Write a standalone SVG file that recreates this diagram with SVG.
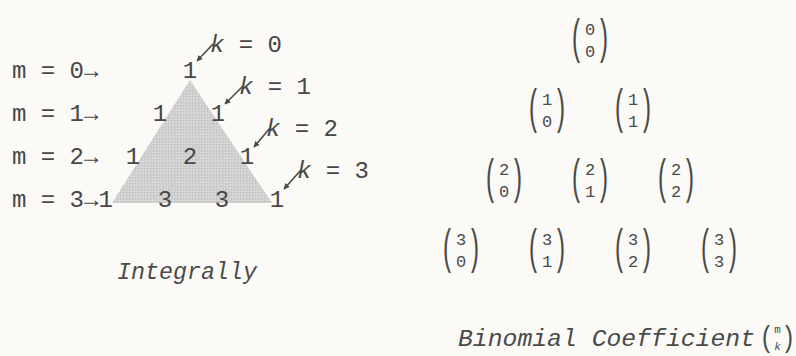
<svg xmlns="http://www.w3.org/2000/svg" width="796" height="356" viewBox="0 0 796 356">
  <style>
    .t { font-family: "Liberation Mono", "DejaVu Sans Mono", monospace; font-size: 24px; fill: #474747; }
    .n { text-anchor: middle; }
    .it { font-style: italic; }
    .bd { font-family: "Liberation Mono", "DejaVu Sans Mono", monospace; font-size: 17px; fill: #4a4a4a; text-anchor: middle; }
    .par { font-family: "Liberation Sans", Arial, sans-serif; font-size: 24px; fill: #4a4a4a; text-anchor: middle; }
    .cap { font-family: "Liberation Mono", "DejaVu Sans Mono", monospace; font-size: 24px; font-style: italic; fill: #4a4a4a; }
    .arr { stroke: #4a4a4a; stroke-width: 1.6; fill: none; marker-end: url(#ah); }
  </style>
  <defs>
    <marker id="ah" viewBox="0 0 10 10" refX="9" refY="5" markerWidth="6" markerHeight="6" markerUnits="userSpaceOnUse" orient="auto">
      <path d="M0,0 L10,5 L0,10 z" fill="#4a4a4a"/>
    </marker>
    <pattern id="dither" width="3" height="3" patternUnits="userSpaceOnUse">
      <rect width="3" height="3" fill="#d0d0d0"/>
      <rect width="1" height="1" fill="#bebebe"/>
      <rect x="2" y="2" width="1" height="1" fill="#e1e1e1"/>
    </pattern>
  </defs>
  <rect width="796" height="356" fill="#fbfaf6"/>

  <g id="triangle">
    <polygon points="190,80 112,203 272,203" fill="url(#dither)"/>
  </g>

  <g id="row-labels">
    <text class="t" x="12" y="78">m = 0→</text>
    <text class="t" x="12" y="121">m = 1→</text>
    <text class="t" x="12" y="164">m = 2→</text>
    <text class="t" x="12" y="207">m = 3→1</text>
  </g>

  <g id="triangle-values">
    <text class="t n" x="190" y="78">1</text>
    <text class="t n" x="160" y="121">1</text>
    <text class="t n" x="218" y="121">1</text>
    <text class="t n" x="133" y="164">1</text>
    <text class="t n" x="190" y="164">2</text>
    <text class="t n" x="247" y="164">1</text>
    <text class="t n" x="165" y="207">3</text>
    <text class="t n" x="222" y="207">3</text>
    <text class="t n" x="277" y="207">1</text>
  </g>

  <g id="k-labels">
    <text class="t" x="210" y="52"><tspan class="it">k</tspan> = 0</text>
    <text class="t" x="239" y="94"><tspan class="it">k</tspan> = 1</text>
    <text class="t" x="266" y="136"><tspan class="it">k</tspan> = 2</text>
    <text class="t" x="297" y="178"><tspan class="it">k</tspan> = 3</text>
  </g>

  <g id="connectors">
    <line class="arr" x1="213" y1="44" x2="197" y2="61"/>
    <line class="arr" x1="243" y1="86" x2="225" y2="104"/>
    <line class="arr" x1="270" y1="128" x2="254" y2="147"/>
    <line class="arr" x1="301" y1="170" x2="284" y2="189"/>
  </g>

  <g id="binomials">
    <g id="b00">
      <text class="par" transform="translate(576,53) scale(1,2)">(</text>
      <text class="par" transform="translate(604,53) scale(1,2)">)</text>
      <text class="bd" x="590" y="35">0</text>
      <text class="bd" x="590" y="57">0</text>
    </g>
    <g id="b10">
      <text class="par" transform="translate(533,123) scale(1,2)">(</text>
      <text class="par" transform="translate(561,123) scale(1,2)">)</text>
      <text class="bd" x="547" y="105">1</text>
      <text class="bd" x="547" y="127">0</text>
    </g>
    <g id="b11">
      <text class="par" transform="translate(619,123) scale(1,2)">(</text>
      <text class="par" transform="translate(647,123) scale(1,2)">)</text>
      <text class="bd" x="633" y="105">1</text>
      <text class="bd" x="633" y="127">1</text>
    </g>
    <g id="b20">
      <text class="par" transform="translate(490,193) scale(1,2)">(</text>
      <text class="par" transform="translate(518,193) scale(1,2)">)</text>
      <text class="bd" x="504" y="175">2</text>
      <text class="bd" x="504" y="197">0</text>
    </g>
    <g id="b21">
      <text class="par" transform="translate(576,193) scale(1,2)">(</text>
      <text class="par" transform="translate(604,193) scale(1,2)">)</text>
      <text class="bd" x="590" y="175">2</text>
      <text class="bd" x="590" y="197">1</text>
    </g>
    <g id="b22">
      <text class="par" transform="translate(662,193) scale(1,2)">(</text>
      <text class="par" transform="translate(690,193) scale(1,2)">)</text>
      <text class="bd" x="676" y="175">2</text>
      <text class="bd" x="676" y="197">2</text>
    </g>
    <g id="b30">
      <text class="par" transform="translate(447,263) scale(1,2)">(</text>
      <text class="par" transform="translate(475,263) scale(1,2)">)</text>
      <text class="bd" x="461" y="245">3</text>
      <text class="bd" x="461" y="267">0</text>
    </g>
    <g id="b31">
      <text class="par" transform="translate(533,263) scale(1,2)">(</text>
      <text class="par" transform="translate(561,263) scale(1,2)">)</text>
      <text class="bd" x="547" y="245">3</text>
      <text class="bd" x="547" y="267">1</text>
    </g>
    <g id="b32">
      <text class="par" transform="translate(619,263) scale(1,2)">(</text>
      <text class="par" transform="translate(647,263) scale(1,2)">)</text>
      <text class="bd" x="633" y="245">3</text>
      <text class="bd" x="633" y="267">2</text>
    </g>
    <g id="b33">
      <text class="par" transform="translate(705,263) scale(1,2)">(</text>
      <text class="par" transform="translate(733,263) scale(1,2)">)</text>
      <text class="bd" x="719" y="245">3</text>
      <text class="bd" x="719" y="267">3</text>
    </g>
  </g>

  <g id="captions">
    <text class="cap" x="117" y="279" textLength="140" lengthAdjust="spacingAndGlyphs">Integrally</text>
    <text class="cap" x="458" y="346" textLength="297" lengthAdjust="spacingAndGlyphs">Binomial Coefficient</text>
    <text class="par" transform="translate(766,347) scale(1,1.25)">(</text>
    <text class="par" transform="translate(789,347) scale(1,1.25)">)</text>
    <text class="bd" x="777.5" y="333" style="font-size:11px">m</text>
    <text class="bd it" x="777.5" y="350" style="font-size:11px">k</text>
  </g>
</svg>
